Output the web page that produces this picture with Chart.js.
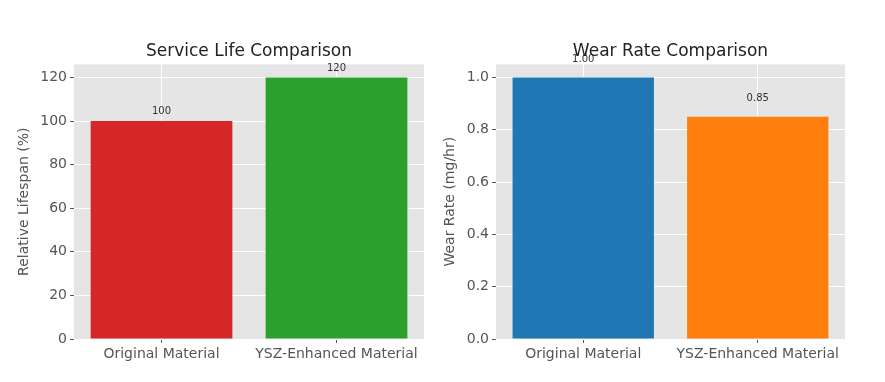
<!DOCTYPE html>
<html><head><meta charset="utf-8">
<script src="https://cdn.jsdelivr.net/npm/chart.js@4/dist/chart.umd.min.js"></script>
<style>
html,body{margin:0;padding:0;background:#fff;}
#wrap{position:relative;width:885px;height:382px;overflow:hidden;}
.panel{position:absolute;top:0;}
</style></head>
<body>
<div id="wrap">
  <div class="panel" style="left:0;width:440px;height:382px"><canvas id="c1" width="440" height="382"></canvas></div>
  <div class="panel" style="left:440px;width:445px;height:382px"><canvas id="c2" width="445" height="382"></canvas></div>
</div>
<script>
const categories = ['Original Material', 'YSZ-Enhanced Material'];
const lifespanValues = [100, 120];
const wearValues = [1.00, 0.85];
const lifespanColors = ['#d62728', '#2ca02c'];
const wearColors = ['#1f77b4', '#ff7f0e'];

const FONT = "'DejaVu Sans', sans-serif";

const bgPlugin = {
  id: 'bg',
  beforeDraw(chart) {
    const {ctx, chartArea: a} = chart;
    ctx.save();
    ctx.fillStyle = '#E5E5E5';
    ctx.fillRect(a.left, a.top, a.right - a.left, a.bottom - a.top);
    ctx.restore();
  }
};

const valueLabels = {
  id: 'valueLabels',
  afterDatasetsDraw(chart, args, opts) {
    const {ctx} = chart;
    const ys = chart.scales.y;
    const meta = chart.getDatasetMeta(0);
    const data = chart.data.datasets[0].data;
    ctx.save();
    ctx.font = '10px ' + FONT;
    ctx.fillStyle = '#333333';
    ctx.textAlign = 'center';
    ctx.textBaseline = 'bottom';
    meta.data.forEach((bar, i) => {
      const v = data[i];
      ctx.fillText(opts.fmt(v), bar.x, ys.getPixelForValue(v + opts.offset));
    });
    ctx.restore();
  }
};

function makeChart(id, values, colors, title, ylabel, yMax, step, fmtTick, fmtLabel, offset, padLeft, yWidth, padRight) {
  return new Chart(document.getElementById(id), {
    type: 'bar',
    data: {
      labels: categories,
      datasets: [{
        data: values,
        backgroundColor: colors,
        borderWidth: 0,
        barPercentage: 0.81,
        categoryPercentage: 1.0
      }]
    },
    options: {
      responsive: false,
      animation: false,
      devicePixelRatio: 1,
      layout: {padding: {left: padLeft, right: padRight, top: 0, bottom: 0}},
      plugins: {
        legend: {display: false},
        tooltip: {enabled: false},
        title: {
          display: true, text: title, color: '#222222', fullSize: false,
          font: {family: FONT, size: 17, weight: 'normal'},
          padding: {top: 41, bottom: 3}
        },
        valueLabels: {fmt: fmtLabel, offset: offset}
      },
      scales: {
        x: {
          grid: {color: '#ffffff', lineWidth: 1, offset: false, tickColor: '#555555', tickLength: 4, drawTicks: true},
          border: {display: false},
          ticks: {color: '#555555', font: {family: FONT, size: 14}, padding: 3, maxRotation: 0},
          afterFit(s) { s.height = 43; }
        },
        y: {
          min: 0, max: yMax,
          grid: {color: '#ffffff', lineWidth: 1, tickColor: '#555555', tickLength: 4, drawTicks: true},
          border: {display: false},
          ticks: {stepSize: step, includeBounds: false, color: '#555555', font: {family: FONT, size: 14}, padding: 3, callback: fmtTick},
          title: {display: true, text: ylabel, color: '#555555', font: {family: FONT, size: 14}, padding: {top: 0, bottom: 0}},
          afterFit(s) { s.width = yWidth; }
        }
      }
    },
    plugins: [bgPlugin, valueLabels]
  });
}

makeChart('c1', lifespanValues, lifespanColors, 'Service Life Comparison', 'Relative Lifespan (%)',
  126, 20, v => String(v), v => String(Math.round(v)), 2, 16, 58, 16);
makeChart('c2', wearValues, wearColors, 'Wear Rate Comparison', 'Wear Rate (mg/hr)',
  1.05, 0.2, v => Number(v).toFixed(1), v => v.toFixed(2), 0.05, 2, 54, 40);
</script>
</body></html>
